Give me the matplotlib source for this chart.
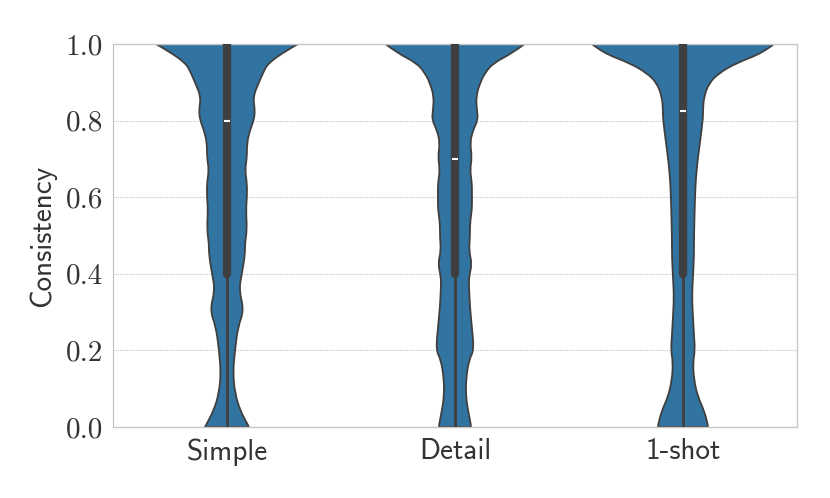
import numpy as np
import matplotlib.pyplot as plt
from matplotlib.path import Path
from matplotlib.patches import PathPatch

# categories on the x axis
categories = ['Simple', 'Detail', '1-shot']

# violin outline: consistency level -> half width (density, arbitrary units)
simple_y = [0.0, 0.005, 0.044, 0.089, 0.141, 0.201, 0.261, 0.305, 0.358, 0.402, 0.449, 0.480,
            0.515, 0.567, 0.601, 0.637, 0.671, 0.705, 0.742, 0.775, 0.802, 0.828, 0.862,
            0.900, 0.924, 0.950, 0.984, 1.0]
simple_w = [22, 21, 13, 8, 6, 8, 11, 17, 12, 15, 18, 18,
            20, 19, 20, 20, 18, 20, 20, 23, 27, 28, 26,
            32, 36, 41, 60, 71]

detail_y = [0.0, 0.005, 0.044, 0.078, 0.125, 0.175, 0.201, 0.259, 0.313, 0.366, 0.392, 0.426,
            0.460, 0.496, 0.533, 0.567, 0.601, 0.637, 0.671, 0.705, 0.742, 0.775, 0.802,
            0.828, 0.862, 0.898, 0.924, 0.950, 0.977, 1.0]
detail_w = [16, 16, 13, 11, 11, 14, 19, 17, 15, 14, 14, 17,
            14, 15, 15, 17, 17, 17, 15, 17, 15, 18, 23,
            22, 21, 25, 30, 38, 58, 69.5]

oneshot_y = [0.0, 0.005, 0.044, 0.078, 0.123, 0.168, 0.201, 0.240, 0.287, 0.340, 0.392,
             0.444, 0.496, 0.601, 0.653, 0.705, 0.802, 0.828, 0.862, 0.898, 0.924, 0.950,
             0.977, 1.0]
oneshot_w = [25, 25, 21, 15, 11, 10, 12, 11, 10, 9, 10,
             11, 11, 12, 13, 15, 20, 20, 21, 26, 36, 53,
             80, 91]

profiles_y = [simple_y, detail_y, oneshot_y]
profiles_w = [simple_w, detail_w, oneshot_w]

# inner box statistics
q1 = [0.4, 0.4, 0.4]
q3 = [1.0, 1.0, 1.0]
medians = [0.8, 0.70, 0.825]
whisk_lo = [0.0, 0.0, 0.0]
whisk_hi = [1.0, 1.0, 1.0]

fill_col = '#3274a1'
edge_col = '#3f3f3f'
text_col = '#333333'


def smooth(pts):
    # quadratic b-spline through midpoints, just to round off the outline
    verts, codes = [], []
    n = len(pts)
    for i in range(1, n - 1):
        end = pts[-1] if i == n - 2 else ((pts[i][0] + pts[i + 1][0]) / 2, (pts[i][1] + pts[i + 1][1]) / 2)
        verts += [pts[i], end]
        codes += [Path.CURVE3, Path.CURVE3]
    return verts, codes


fig = plt.figure(figsize=(8.3, 4.98), dpi=100)
ax = fig.add_axes([0.1361, 0.1426, 0.8241, 0.769])

scale = 1 / 228.0
for i, (ys, ws) in enumerate(zip(profiles_y, profiles_w)):
    ws = np.array(ws) * scale
    left = [(i - w, y) for w, y in zip(ws, ys)]
    right = [(i + w, y) for w, y in zip(ws[::-1], ys[::-1])]
    verts = [left[0]]
    codes = [Path.MOVETO]
    v, c = smooth(left)
    verts += v
    codes += c
    verts.append(right[0])
    codes.append(Path.LINETO)
    v, c = smooth(right)
    verts += v
    codes += c
    verts.append(left[0])
    codes.append(Path.CLOSEPOLY)
    ax.add_patch(PathPatch(Path(verts, codes), facecolor=fill_col, edgecolor=edge_col,
                           lw=1.3, zorder=2))

    ax.plot([i, i], [whisk_lo[i], whisk_hi[i]], color=edge_col, lw=2.0, zorder=3,
            solid_capstyle='butt')
    ax.plot([i, i], [q1[i], q3[i]], color=edge_col, lw=6.0, zorder=4,
            solid_capstyle='round')
    ax.plot([i - 0.012, i + 0.012], [medians[i], medians[i]], color='white', lw=1.5,
            zorder=5, solid_capstyle='butt')

ax.set_xlim(-0.5, 2.5)
ax.set_ylim(0, 1)
ax.set_xticks(range(len(categories)))
ax.set_xticklabels(categories, fontfamily='cmss10', fontsize=21, color=text_col)
yt = [0.0, 0.2, 0.4, 0.6, 0.8, 1.0]
ax.set_yticks(yt)
ax.set_yticklabels(['%.1f' % t for t in yt], fontfamily='cmr10', fontsize=21, color=text_col)
ax.tick_params(axis='y', length=0, pad=7)
ax.tick_params(axis='x', length=0, pad=8)
ax.set_ylabel('Consistency', fontfamily='cmss10', fontsize=21, color=text_col, labelpad=7)

ax.yaxis.grid(True, color='#c4c4c4', lw=0.8, linestyle=(0, (1, 1)), zorder=0)
ax.set_axisbelow(True)
for s in ['top', 'right', 'bottom']:
    ax.spines[s].set_color('#c8c8c8')
    ax.spines[s].set_linewidth(1.0)
ax.spines['left'].set_color('#c0c0c0')
ax.spines['left'].set_linestyle((0, (1, 1)))
ax.spines['left'].set_linewidth(0.8)

fig.savefig('out.png', dpi=100)
